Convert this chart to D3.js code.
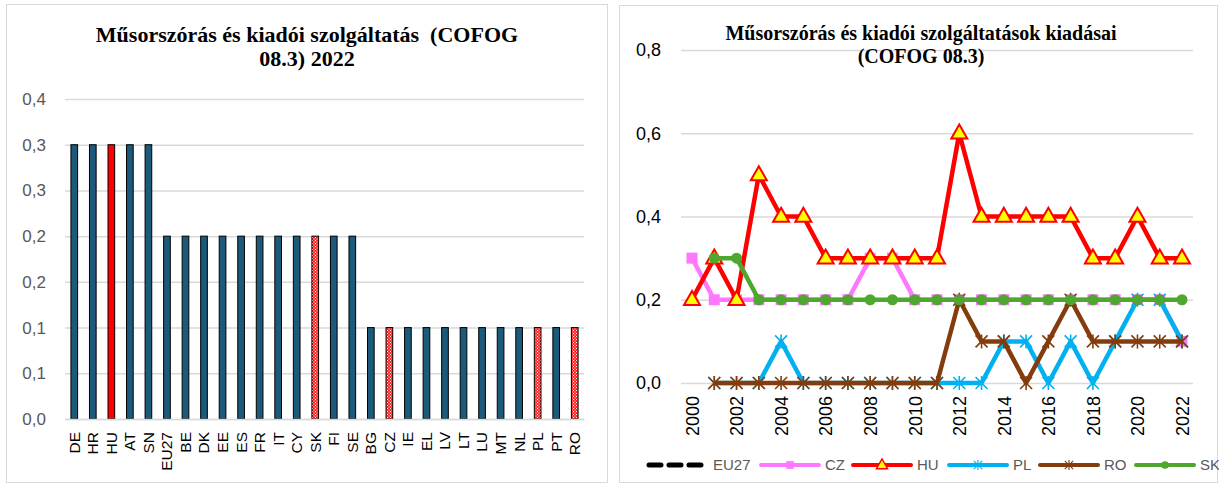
<!DOCTYPE html>
<html><head><meta charset="utf-8">
<script src="https://cdn.jsdelivr.net/npm/d3@7"></script>
<style>body{margin:0;background:#fff;}svg{display:block;}</style>
</head><body>
<svg id="c" width="1219" height="484"></svg>
<script>
// ---- Left chart data ----
const barCountries = ["DE","HR","HU","AT","SN","EU27","BE","DK","EE","ES","FR","IT","CY","SK","FI","SE","BG","CZ","IE","EL","LV","LT","LU","MT","NL","PL","PT","RO"];
const barValues = [0.3,0.3,0.3,0.3,0.3,0.2,0.2,0.2,0.2,0.2,0.2,0.2,0.2,0.2,0.2,0.2,0.1,0.1,0.1,0.1,0.1,0.1,0.1,0.1,0.1,0.1,0.1,0.1];
const barTickValues = [0,0.05,0.1,0.15,0.2,0.25,0.3,0.35];
const barTickLabels = ["0,0","0,1","0,1","0,2","0,2","0,3","0,3","0,4"];
const highlightSolid = ["HU"];
const highlightPattern = ["SK","CZ","PL","RO"];

// ---- Right chart data ----
const years = d3.range(2000, 2023);
const yearLabels = [2000,2002,2004,2006,2008,2010,2012,2014,2016,2018,2020,2022];
const lineTickValues = [0,0.2,0.4,0.6,0.8];
const lineTickLabels = ["0,0","0,2","0,4","0,6","0,8"];
const EU27 = [null,0.2,0.2,0.2,0.2,0.2,0.2,0.2,0.2,0.2,0.2,0.2,0.2,0.2,0.2,0.2,0.2,0.2,0.2,0.2,0.2,0.2,0.2];
const CZ   = [0.3,0.2,0.2,0.2,0.2,0.2,0.2,0.2,0.3,0.3,0.2,0.2,0.2,0.2,0.2,0.2,0.2,0.2,0.2,0.2,0.2,0.2,0.1];
const HU   = [0.2,0.3,0.2,0.5,0.4,0.4,0.3,0.3,0.3,0.3,0.3,0.3,0.6,0.4,0.4,0.4,0.4,0.4,0.3,0.3,0.4,0.3,0.3];
const PL   = [null,0,0,0,0.1,0,0,0,0,0,0,0,0,0,0.1,0.1,0,0.1,0,0.1,0.2,0.2,0.1];
const RO   = [null,0,0,0,0,0,0,0,0,0,0,0,0.2,0.1,0.1,0,0.1,0.2,0.1,0.1,0.1,0.1,0.1];
const SK   = [null,0.3,0.3,0.2,0.2,0.2,0.2,0.2,0.2,0.2,0.2,0.2,0.2,0.2,0.2,0.2,0.2,0.2,0.2,0.2,0.2,0.2,0.2];

const series = [
  {name:"EU27", values:EU27, color:"#000000", marker:"none", dash:"8,6"},
  {name:"CZ", values:CZ, color:"#FF77FF", marker:"square"},
  {name:"HU", values:HU, color:"#FF0000", marker:"triangle"},
  {name:"PL", values:PL, color:"#00B0F0", marker:"star"},
  {name:"RO", values:RO, color:"#843C0C", marker:"star"},
  {name:"SK", values:SK, color:"#4EA72E", marker:"circle"}
];

const svg = d3.select("#c");
const defs = svg.append("defs");
const pat = defs.append("pattern").attr("id","dots").attr("patternUnits","userSpaceOnUse")
  .attr("width",3).attr("height",3);
pat.append("rect").attr("width",3).attr("height",3).attr("fill","#FF2020");
pat.append("rect").attr("x",0).attr("y",0).attr("width",1).attr("height",1).attr("fill","#fff");
pat.append("rect").attr("x",1.5).attr("y",1.5).attr("width",1).attr("height",1).attr("fill","#fff");

// panel borders
svg.append("rect").attr("x",6.5).attr("y",4.5).attr("width",601).attr("height",478)
  .attr("fill","#fff").attr("stroke","#D9D9D9");
svg.append("rect").attr("x",619.5).attr("y",5.5).attr("width",598).attr("height",477)
  .attr("fill","#fff").attr("stroke","#D9D9D9");

const SANS = "Liberation Sans, Arial, sans-serif";
const SERIF = "Liberation Serif, Times New Roman, serif";

// ================= LEFT =================
{
  const x = d3.scaleBand().domain(barCountries).range([65,584]).paddingInner(0.64).paddingOuter(0.32);
  const y = d3.scaleLinear().domain([0,0.35]).range([419,99]);
  const g = svg.append("g");
  const yAxis = d3.axisLeft(y).tickValues(barTickValues).tickSize(-(584-65))
    .tickFormat((d,i)=>barTickLabels[i]);
  const ga = g.append("g").attr("transform","translate(65,0)").call(yAxis);
  ga.select(".domain").remove();
  ga.selectAll(".tick line").attr("stroke","#D9D9D9").attr("stroke-width",1.5);
  ga.selectAll(".tick text").attr("x",-19).attr("fill","#595959")
    .style("font-family",SANS).style("font-size","17px");

  g.selectAll("rect.bar").data(barCountries).enter().append("rect")
    .attr("x",d=>x(d)).attr("width",x.bandwidth())
    .attr("y",(d,i)=>y(barValues[i])).attr("height",(d,i)=>y(0)-y(barValues[i]))
    .attr("fill",d=>highlightSolid.includes(d)?"#FF0000":(highlightPattern.includes(d)?"url(#dots)":"#1B5A7A"))
    .attr("stroke","#000").attr("stroke-width",1);

  const xa = g.append("g").attr("transform","translate(0,419)").call(d3.axisBottom(x).tickSize(0));
  xa.select(".domain").attr("stroke","#D9D9D9").attr("stroke-width",1.5);
  xa.selectAll(".tick text").attr("transform","rotate(-90)").attr("text-anchor","end")
    .attr("x",-13).attr("y",0).attr("dy","0.35em").attr("fill","#000")
    .style("font-family",SANS).style("font-size","15.5px");

  const t = g.append("text").attr("text-anchor","middle")
    .style("font-family",SERIF).style("font-weight","bold")
    .style("font-size","22px").attr("fill","#000");
  t.append("tspan").attr("x",307).attr("y",42).text("Műsorszórás és kiadói szolgáltatás\u00a0\u00a0(COFOG");
  t.append("tspan").attr("x",307).attr("y",66).text("08.3) 2022");
}

// ================= RIGHT =================
{
  const x = d3.scalePoint().domain(years).range([692,1182]);
  const y = d3.scaleLinear().domain([0,0.8]).range([383,50]);
  const g = svg.append("g");
  const ga = g.append("g").attr("transform","translate(681,0)")
    .call(d3.axisLeft(y).tickValues(lineTickValues).tickSize(-(1193-681)).tickFormat((d,i)=>lineTickLabels[i]));
  ga.select(".domain").remove();
  ga.selectAll(".tick line").attr("stroke","#D9D9D9").attr("stroke-width",1.5);
  ga.selectAll(".tick text").attr("x",-20).attr("fill","#000")
    .style("font-family",SANS).style("font-size","18px");

  const xa = g.append("g").attr("transform","translate(0,383)")
    .call(d3.axisBottom(x).tickValues(yearLabels).tickSize(0).tickFormat(d=>String(d)));
  xa.select(".domain").remove();
  xa.selectAll(".tick text").attr("transform","rotate(-90)").attr("text-anchor","end")
    .attr("x",-13).attr("y",0).attr("dy","0.35em").attr("fill","#000")
    .style("font-family",SANS).style("font-size","18px");

  const line = d3.line().defined(d=>d[1]!==null).x(d=>x(d[0])).y(d=>y(d[1]));

  function drawMarker(sel, s, cx, cy){
    if(s.marker==="square"){
      sel.append("rect").attr("x",cx-5.5).attr("y",cy-5.5).attr("width",11).attr("height",11).attr("fill",s.color);
    } else if(s.marker==="triangle"){
      const h=14, w=16;
      sel.append("path").attr("d",`M${cx},${cy-h*0.62} L${cx+w/2},${cy+h*0.38} L${cx-w/2},${cy+h*0.38} Z`)
        .attr("fill","#FFFF00").attr("stroke","#FF0000").attr("stroke-width",2);
    } else if(s.marker==="circle"){
      sel.append("circle").attr("cx",cx).attr("cy",cy).attr("r",5.5).attr("fill",s.color);
    } else if(s.marker==="star"){
      const r=6;
      sel.append("path").attr("d",`M${cx-r},${cy-r}L${cx+r},${cy+r}M${cx-r},${cy+r}L${cx+r},${cy-r}M${cx},${cy-r-1}L${cx},${cy+r+1}`)
        .attr("stroke",s.color).attr("stroke-width",1.6).attr("fill","none");
    }
  }

  series.forEach(s=>{
    const pts = years.map((yr,i)=>[yr,s.values[i]]);
    g.append("path").datum(pts).attr("d",line).attr("fill","none")
      .attr("stroke",s.color).attr("stroke-width",s.dash?3.5:4.5)
      .attr("stroke-dasharray",s.dash||null).attr("stroke-linejoin","round");
    const mg = g.append("g");
    pts.forEach(p=>{ if(p[1]!==null) drawMarker(mg, s, x(p[0]), y(p[1])); });
  });

  const t = g.append("text").attr("text-anchor","middle")
    .style("font-family",SERIF).style("font-weight","bold")
    .style("font-size","20px").attr("fill","#000");
  t.append("tspan").attr("x",921).attr("y",40).text("Műsorszórás és kiadói szolgáltatások kiadásai");
  t.append("tspan").attr("x",921).attr("y",63).text("(COFOG 08.3)");

  // legend
  const legX = [649,761,853,949,1040,1136];
  const lg = g.append("g");
  series.forEach((s,i)=>{
    const x0 = legX[i], x1 = x0 + (i===0?52:58), ly = 465;
    if(s.dash){
      lg.append("line").attr("x1",x0).attr("x2",x1).attr("y1",ly).attr("y2",ly)
        .attr("stroke","#000").attr("stroke-width",5).attr("stroke-dasharray","12,8").attr("stroke-linecap","round");
    } else {
      lg.append("line").attr("x1",x0).attr("x2",x1).attr("y1",ly).attr("y2",ly)
        .attr("stroke",s.color).attr("stroke-width",4).attr("stroke-linecap","round");
      const ms = {marker:s.marker,color:s.color};
      const mg = lg.append("g").attr("transform",`translate(${(x0+x1)/2},${ly}) scale(0.7) translate(${-(x0+x1)/2},${-ly})`);
      drawMarker(mg, ms, (x0+x1)/2, ly);
    }
    lg.append("text").attr("x",x1+(i===0?12:6)).attr("y",ly).attr("dy","0.35em")
      .attr("fill","#595959").style("font-family",SANS).style("font-size","15px").text(s.name);
  });
}
</script>
</body></html>
